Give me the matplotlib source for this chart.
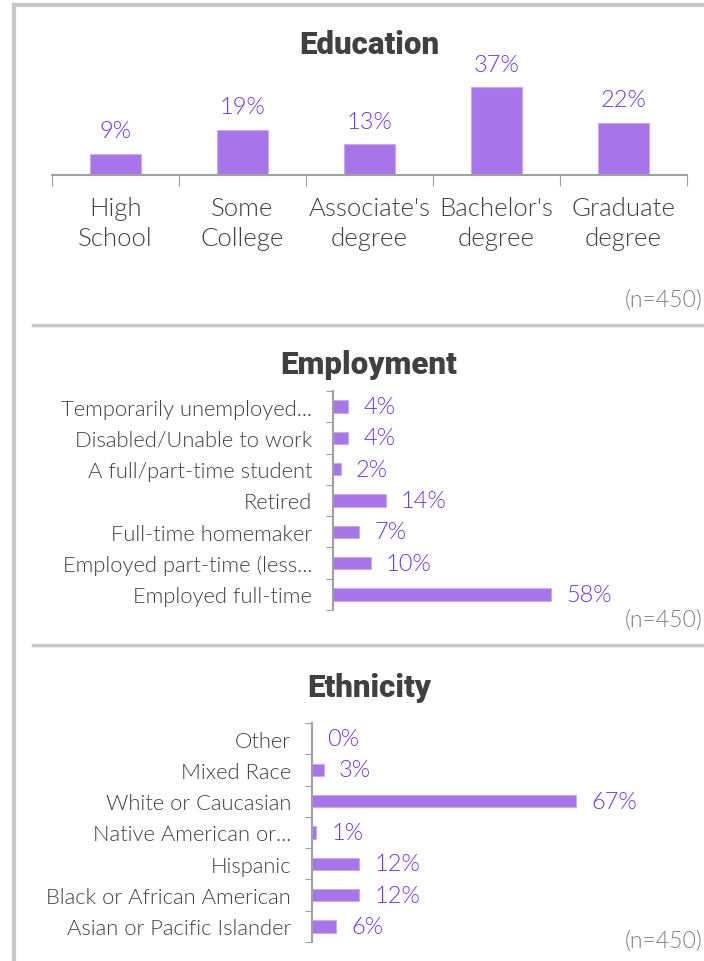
import matplotlib.pyplot as plt
from matplotlib.lines import Line2D

edu_labels = ["High\nSchool", "Some\nCollege", "Associate's\ndegree", "Bachelor's\ndegree", "Graduate\ndegree"]
edu_values = [9, 19, 13, 37, 22]

emp_labels = ["Temporarily unemployed...", "Disabled/Unable to work", "A full/part-time student",
              "Retired", "Full-time homemaker", "Employed part-time (less...", "Employed full-time"]
emp_values = [4, 4, 2, 14, 7, 10, 58]

eth_labels = ["Other", "Mixed Race", "White or Caucasian", "Native American or...",
              "Hispanic", "Black or African American", "Asian or Pacific Islander"]
eth_values = [0, 3, 67, 1, 12, 12, 6]

n_text = "(n=450)"

bar_color = "#a774ea"
val_color = "#7535e0"
txt_color = "#404040"
line_color = "#c8c8c8"
tick_color = "#a0a0a0"

plt.rcParams['font.family'] = ['Lato', 'DejaVu Sans']

W, H = 704, 962
fig = plt.figure(figsize=(W / 100, H / 100), dpi=100)


def px_axes(x0, y0, x1, y1):
    # pixel box (top-left origin) -> axes
    return fig.add_axes([x0 / W, 1 - y1 / H, (x1 - x0) / W, (y1 - y0) / H])


# frame lines
fig.add_artist(Line2D([14 / W, 14 / W], [0, 1 - 6 / H], color=line_color, lw=3, transform=fig.transFigure))
fig.add_artist(Line2D([14 / W, 1], [1 - 6 / H, 1 - 6 / H], color=line_color, lw=3, transform=fig.transFigure))
for yy in [326, 646]:
    fig.add_artist(Line2D([33 / W, 1], [1 - yy / H, 1 - yy / H], color=line_color, lw=2.5, transform=fig.transFigure))

# titles and n labels
for title, ty in [("Education", 45), ("Employment", 365), ("Ethnicity", 688)]:
    fig.text(369 / W, 1 - ty / H, title, ha="center", va="center", fontsize=22.5,
             fontweight=900, color=txt_color, family=["Roboto", "DejaVu Sans"])
for ny in [300, 620, 941]:
    fig.text(703 / W, 1 - ny / H, n_text, ha="right", va="center", fontsize=16.5,
             color="#7f7f7f", fontweight=300)

# Education
ax = px_axes(52, 81, 687, 176)
x = list(range(len(edu_values)))
ax.bar(x, edu_values, width=0.4, color=bar_color, edgecolor="#c9aaf3", linewidth=0.8)
for xi, v in zip(x, edu_values):
    ax.annotate(f"{v}%", (xi, v), xytext=(0, 9), textcoords="offset points",
                ha="center", va="bottom", fontsize=17, color=val_color, fontweight=300)
ax.set_xlim(-0.5, len(edu_values) - 0.5)
ax.set_ylim(0, 40)
ax.set_yticks([])
ax.set_xticks([i - 0.5 for i in range(len(edu_values) + 1)])
ax.set_xticklabels([])
ax.tick_params(axis="x", which="major", length=8, color=tick_color, direction="out")
ax.set_xticks(x, minor=True)
ax.set_xticklabels(edu_labels, minor=True, fontsize=18.5, color=txt_color, linespacing=1.35,
                   fontweight=300)
ax.tick_params(axis="x", which="minor", length=0, pad=15)
for s in ["top", "right", "left"]:
    ax.spines[s].set_visible(False)
ax.spines["bottom"].set_color(tick_color)
ax.spines["bottom"].set_linewidth(1.5)


def hbar_panel(box, labels, values, xmax, label_pad):
    ax = px_axes(*box)
    y = list(range(len(values)))
    ax.barh(y, values, height=0.4, color=bar_color, edgecolor="#c9aaf3", linewidth=0.8)
    for yi, v in zip(y, values):
        ax.annotate(f"{v}%", (v, yi), xytext=(11, 0), textcoords="offset points",
                    ha="left", va="center", fontsize=17, color=val_color, fontweight=300)
    ax.set_ylim(len(values) - 0.5, -0.5)
    ax.set_xlim(0, xmax)
    ax.set_xticks([])
    ax.set_yticks([i - 0.5 for i in range(len(values) + 1)])
    ax.set_yticklabels([])
    ax.tick_params(axis="y", which="major", length=5, color=tick_color, direction="out")
    ax.set_yticks(y, minor=True)
    ax.set_yticklabels(labels, minor=True, fontsize=15.8, color=txt_color, fontweight=300)
    ax.tick_params(axis="y", which="minor", length=0, pad=label_pad)
    for s in ["top", "right", "bottom"]:
        ax.spines[s].set_visible(False)
    ax.spines["left"].set_color(tick_color)
    ax.spines["left"].set_linewidth(1.5)
    return ax


hbar_panel((333, 392, 671, 611), emp_labels, emp_values, 90, 15)
hbar_panel((312, 724, 667, 943), eth_labels, eth_values, 90, 15)

fig.savefig("out.png", dpi=100)
